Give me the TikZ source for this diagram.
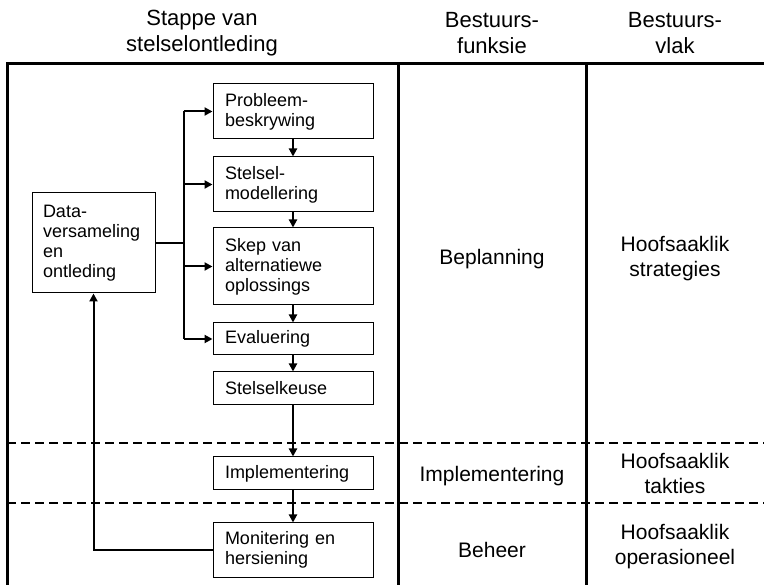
\documentclass[tikz,border=0pt]{standalone}
\usepackage{fontspec}
\setmainfont{Liberation Sans}
\usetikzlibrary{arrows.meta,positioning}

\begin{document}
\begin{tikzpicture}[x=1pt, y=-1pt,
  stepbox/.style = {draw, line width=1pt, align=left,
    inner xsep=12pt, text width=136pt,
    font=\fontsize{18}{20}\selectfont},
  colhead/.style = {align=center, font=\fontsize{22}{26}\selectfont},
  coltext/.style = {align=center, font=\fontsize{21}{25}\selectfont},
  flow/.style = {line width=2pt, -{Triangle[length=8pt,width=8pt]}},
  link/.style = {line width=2pt},
  frame/.style = {line width=3pt},
  bandline/.style = {line width=2.4pt, dash pattern=on 9pt off 5pt}]
  \useasboundingbox (0,0) rectangle (764,585);

  % kolomme
  \draw[frame] (7,585) -- (7,64) -- (764,64);
  \draw[frame] (398,64) -- (398,585);
  \draw[frame] (586,64) -- (586,585);
  \draw[bandline] (7,443) -- (764,443);
  \draw[bandline] (7,503) -- (764,503);

  \node[colhead] (hstap) at (202,33) {Stappe van\\stelselontleding};
  \node[colhead] (hfunk) at (492,33) {Bestuurs-\\funksie};
  \node[colhead] (hvlak) at (675,33) {Bestuurs-\\vlak};

  \node[coltext] (beplan) at (492,259) {Beplanning};
  \node[coltext] (implem) at (492,476) {Implementering};
  \node[coltext] (beheer) at (492,550) {Beheer};
  \node[coltext] (strat) at (675,259) {Hoofsaaklik\\strategies};
  \node[coltext] (takt) at (675,473) {Hoofsaaklik\\takties};
  \node[coltext] (oper) at (675,547) {Hoofsaaklik\\operasioneel};

  % stappe
  \node[stepbox, minimum height=100pt, inner xsep=11pt, text width=101pt]
    (data) at (93.5,243) {Data-\\versameling\\en\\ontleding};
  \node[stepbox, minimum height=55pt] (prob) at (293,111.5) {Probleem-\\beskrywing};
  \node[stepbox, minimum height=55pt] (model) at (293,184.5) {Stelsel-\\modellering};
  \node[stepbox, minimum height=77pt] (skep) at (293,266.5) {Skep van\\alternatiewe\\oplossings};
  \node[stepbox, minimum height=32pt] (eval) at (293,339) {Evaluering};
  \node[stepbox, minimum height=33pt] (keuse) at (293,388.5) {Stelselkeuse};
  \node[stepbox, minimum height=33pt] (impl) at (293,473.5) {Implementering};
  \node[stepbox, minimum height=54pt] (moni) at (293,550) {Monitering en\\hersiening};

  % verbindings
  \draw[link] (data.east) -- ++(28,0) coordinate (bus);
  \draw[link] (bus |- prob.west) -- (bus |- eval.west);
  \foreach \s in {prob, model, skep, eval}
    \draw[flow] (bus |- \s.west) -- (\s.west);
  \draw[flow] (prob) -- (model);
  \draw[flow] (model) -- (skep);
  \draw[flow] (skep) -- (eval);
  \draw[flow] (eval) -- (keuse);
  \draw[flow] (keuse) -- (impl);
  \draw[flow] (impl) -- (moni);
  \draw[flow] (moni.west) -| (data.south);
\end{tikzpicture}
\end{document}
